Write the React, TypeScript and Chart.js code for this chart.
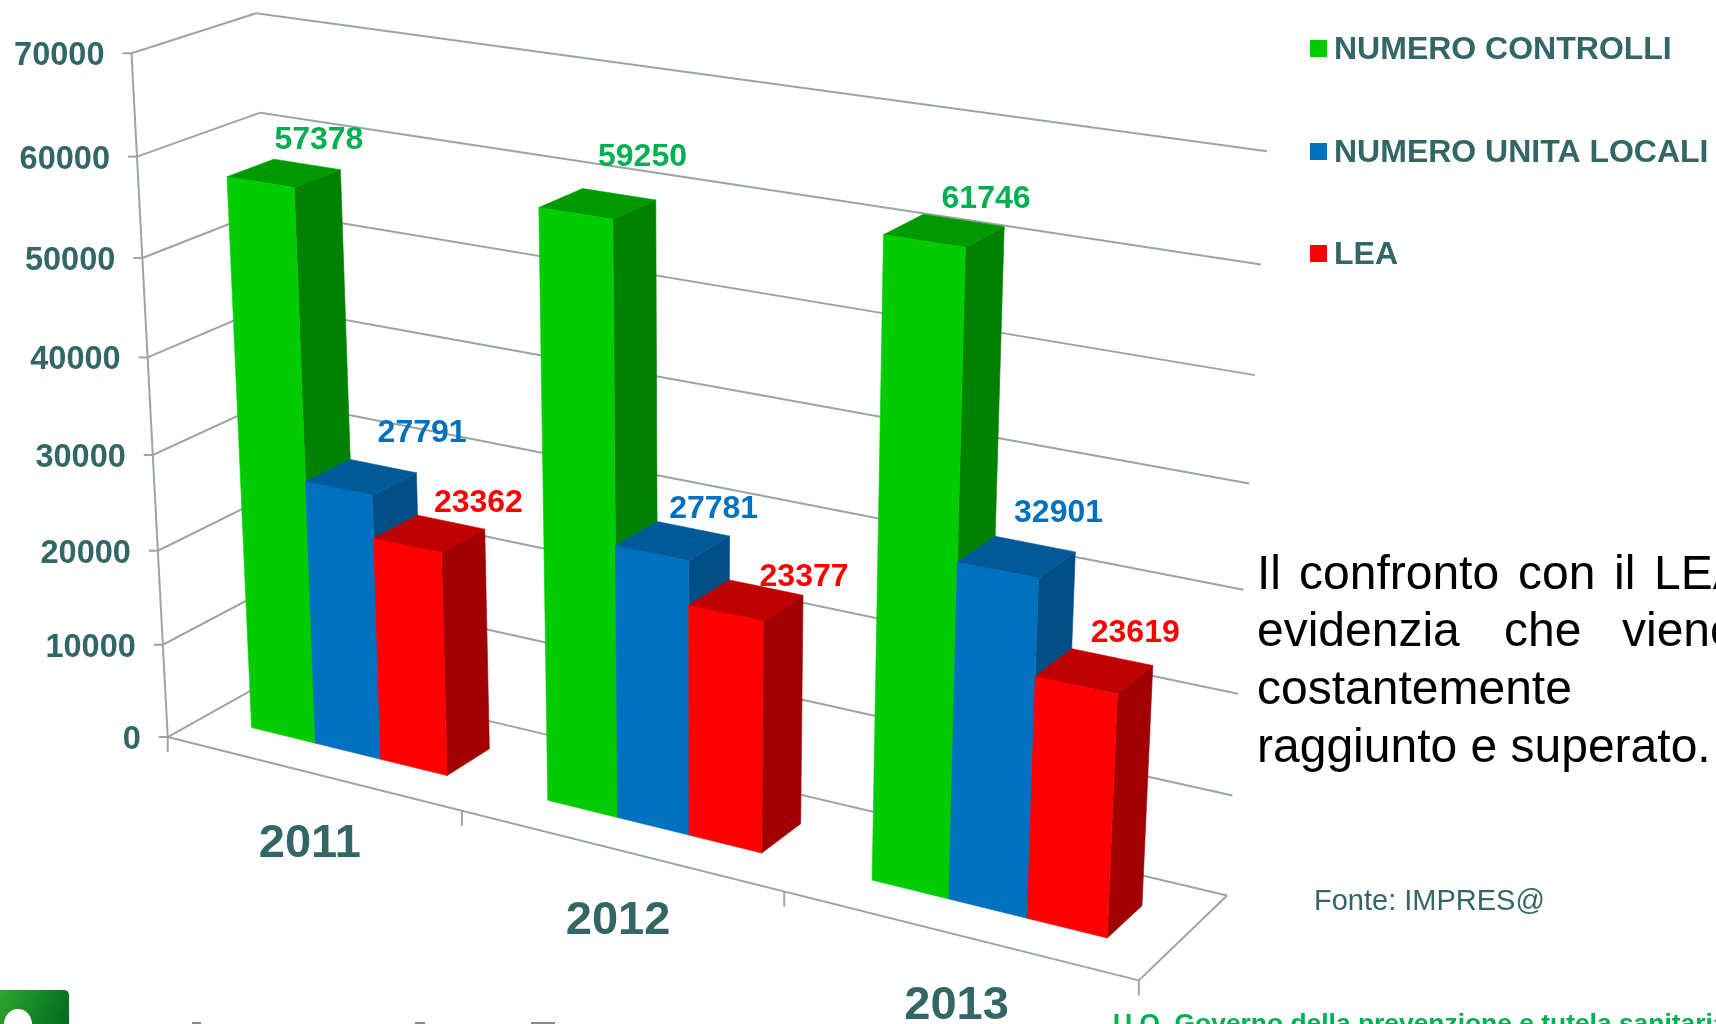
import React, { useEffect, useRef } from "react";
import { Chart, registerables } from "chart.js";

Chart.register(...registerables);

const categories = ["2011", "2012", "2013"];
const controlli = [57378, 59250, 61746];
const unitaLocali = [27791, 27781, 32901];
const lea = [23362, 23377, 23619];
const seriesNames = ["NUMERO CONTROLLI", "NUMERO UNITA LOCALI", "LEA"];
const yMax = 70000;
const yStep = 10000;

const FONT = '"Liberation Sans", Arial, sans-serif';
const TEAL = "#336666";
const GRID = "#9aa5a5";
const faces = [
  { front: "#00CC00", side: "#008200", top: "#009A00", label: "#00B050" },
  { front: "#0070C0", side: "#004E86", top: "#005A9A", label: "#0070C0" },
  { front: "#FF0000", side: "#A00000", top: "#C00000", label: "#FF0000" },
];
const labelOffsets = [
  [[35, -35], [61, -46], [49, -33]],
  [[45, -49], [41, -34], [58, -25]],
  [[42, -34], [42, -46], [41, -40]],
];
const BAR_NEAR = 0.315;
const BAR_FAR = 0.7;

// Anchors of the drawn box: [u (0..1), v (0..1), w (0..1), pixel x, pixel y]
const anchors: number[][] = [
  [0, 0, 0, 168, 736], [1 / 3, 0, 0, 462, 812], [2 / 3, 0, 0, 784, 894], [1, 0, 0, 1138, 979],
  [0, 0, 1, 283, 672], [1, 0, 1, 1227, 895],
  [0, 1, 0, 131, 53], [0, 6 / 7, 0, 137, 156], [0, 5 / 7, 0, 143, 258], [0, 4 / 7, 0, 148, 357],
  [0, 1, 1, 256, 14], [0, 6 / 7, 1, 260, 113],
  [1, 1, 1, 1267, 151], [1, 6 / 7, 1, 1261, 265], [1, 5 / 7, 1, 1255, 375], [1, 4 / 7, 1, 1249, 484],
  [1, 3 / 7, 1, 1244, 589], [1, 2 / 7, 1, 1238, 693], [1, 1 / 7, 1, 1233, 796],
];

function fit(pts: number[][]) {
  const n = 11;
  const A = Array.from({ length: n }, () => new Array(n + 1).fill(0));
  const add = (r: number[], b: number) => {
    for (let i = 0; i < n; i++) {
      for (let j = 0; j < n; j++) A[i][j] += r[i] * r[j];
      A[i][n] += r[i] * b;
    }
  };
  for (const [X, Y, Z, px, py] of pts) {
    const x = px / 1000, y = py / 1000;
    add([X, Y, Z, 1, 0, 0, 0, 0, -x * X, -x * Y, -x * Z], x);
    add([0, 0, 0, 0, X, Y, Z, 1, -y * X, -y * Y, -y * Z], y);
  }
  for (let c = 0; c < n; c++) {
    let m = c;
    for (let r = c + 1; r < n; r++) if (Math.abs(A[r][c]) > Math.abs(A[m][c])) m = r;
    [A[c], A[m]] = [A[m], A[c]];
    for (let r = 0; r < n; r++) {
      if (r === c) continue;
      const f = A[r][c] / A[c][c];
      for (let k = c; k <= n; k++) A[r][k] -= f * A[c][k];
    }
  }
  return A.map((row, i) => row[n] / row[i]);
}
const P = fit(anchors);
function project(u: number, v: number, w: number): [number, number] {
  const d = P[8] * u + P[9] * v + P[10] * w + 1;
  return [
    (1000 * (P[0] * u + P[1] * v + P[2] * w + P[3])) / d,
    (1000 * (P[4] * u + P[5] * v + P[6] * w + P[7])) / d,
  ];
}

function poly(ctx: CanvasRenderingContext2D, pts: [number, number][], fill: string) {
  ctx.beginPath();
  pts.forEach((p, i) => (i ? ctx.lineTo(p[0], p[1]) : ctx.moveTo(p[0], p[1])));
  ctx.closePath();
  ctx.fillStyle = fill;
  ctx.fill();
  ctx.strokeStyle = fill;
  ctx.lineWidth = 0.6;
  ctx.stroke();
}
function seg(ctx: CanvasRenderingContext2D, a: [number, number], b: [number, number]) {
  ctx.beginPath();
  ctx.moveTo(a[0], a[1]);
  ctx.lineTo(b[0], b[1]);
  ctx.strokeStyle = GRID;
  ctx.lineWidth = 2;
  ctx.stroke();
}
function text(ctx: CanvasRenderingContext2D, s: string, x: number, y: number, font: string, color: string, align: CanvasTextAlign = "left") {
  ctx.font = font;
  ctx.fillStyle = color;
  ctx.textAlign = align;
  ctx.textBaseline = "alphabetic";
  ctx.fillText(s, x, y);
}

const paragraph: [string, number, number][] = [
  ["Il", 1257, 589], ["confronto", 1299, 589], ["con", 1518, 589], ["il", 1614, 589], ["LEA", 1654, 589],
  ["evidenzia", 1257, 646], ["che", 1504, 646], ["viene", 1622, 646],
  ["costantemente", 1257, 704],
  ["raggiunto e superato.", 1257, 762],
];

const box3d = {
  id: "box3d",
  beforeDatasetsDraw(chart: any) {
    const { ctx, chartArea: area, scales } = chart;
    const yS = scales.y;
    const vOf = (val: number) => (area.bottom - yS.getPixelForValue(val)) / area.height;
    const uOf = (px: number) => (px - area.left) / area.width;
    ctx.save();

    // walls and floor
    for (const t of yS.ticks) {
      const v = vOf(t.value);
      const a = project(0, v, 0), b = project(0, v, 1), c = project(1, v, 1);
      seg(ctx, a, b);
      seg(ctx, b, c);
      seg(ctx, [a[0] - 9, a[1]], a);
      text(ctx, String(t.value), a[0] - 27, a[1] + 12, `bold 32.5px ${FONT}`, TEAL, "right");
    }
    seg(ctx, project(0, 0, 0), project(0, 1, 0));
    seg(ctx, project(0, 0, 0), project(1, 0, 0));
    seg(ctx, project(1, 0, 0), project(1, 0, 1));

    // category ticks and labels
    const n = categories.length;
    const edges = Array.from({ length: n + 1 }, (_, i) => i / n);
    edges.forEach((e) => {
      const p = project(e, 0, 0);
      seg(ctx, p, [p[0], p[1] + 15]);
    });
    categories.forEach((c, i) => {
      const a = project(edges[i], 0, 0), b = project(edges[i + 1], 0, 0);
      text(ctx, c, (a[0] + b[0]) / 2 - 5, (a[1] + b[1]) / 2 + 83, `bold 47px ${FONT}`, TEAL, "center");
    });

    // bars
    const labels: any[] = [];
    for (let i = 0; i < n; i++) {
      chart.data.datasets.forEach((ds: any, s: number) => {
        const el = chart.getDatasetMeta(s).data[i];
        const u0 = uOf(el.x - el.width / 2), u1 = uOf(el.x + el.width / 2);
        const v = vOf(ds.data[i]);
        const F = BAR_NEAR, B = BAR_FAR;
        const col = faces[s];
        poly(ctx, [project(u1, 0, F), project(u1, 0, B), project(u1, v, B), project(u1, v, F)], col.side);
        poly(ctx, [project(u0, v, F), project(u1, v, F), project(u1, v, B), project(u0, v, B)], col.top);
        poly(ctx, [project(u0, 0, F), project(u1, 0, F), project(u1, v, F), project(u0, v, F)], col.front);
        const ctr = project((u0 + u1) / 2, v, (F + B) / 2);
        const off = labelOffsets[i][s];
        labels.push([String(ds.data[i]), ctr[0] + off[0], ctr[1] + off[1] + 11, col.label]);
      });
    }
    labels.forEach((l) => text(ctx, l[0], l[1], l[2], `bold 32px ${FONT}`, l[3], "center"));

    // legend
    const legendY = [59, 162, 264];
    chart.data.datasets.forEach((ds: any, s: number) => {
      ctx.fillStyle = faces[s].front;
      ctx.fillRect(1310, legendY[s] - 19, 17, 17);
      text(ctx, ds.label, 1334, legendY[s], `bold 32px ${FONT}`, TEAL);
    });

    // side notes
    paragraph.forEach(([w, x, y]) => text(ctx, w, x, y, `48px ${FONT}`, "#000000"));
    text(ctx, "Fonte: IMPRES@", 1314, 910, `29px ${FONT}`, TEAL);
    text(ctx, "U.O. Governo della prevenzione e tutela sanitaria", 1113, 1032, `bold 26.4px ${FONT}`, "#00B050");

    // corner badge
    const g = ctx.createLinearGradient(0, 990, 69, 1024);
    g.addColorStop(0, "#2FA52F");
    g.addColorStop(1, "#006A1E");
    ctx.fillStyle = g;
    ctx.beginPath();
    ctx.roundRect(-10, 990, 79, 50, 5);
    ctx.fill();
    ctx.fillStyle = "#ffffff";
    ctx.beginPath();
    ctx.ellipse(18, 1024, 14, 15, 0, 0, Math.PI * 2);
    ctx.fill();
    ctx.fillStyle = "#8a8a8a";
    ctx.fillRect(192, 1022, 9, 2);
    ctx.fillRect(415, 1022, 10, 2);
    ctx.fillRect(531, 1022, 24, 2);
    ctx.restore();
    return false;
  },
};

export default function App() {
  const ref = useRef<HTMLCanvasElement>(null);
  useEffect(() => {
    document.body.style.margin = "0";
    document.body.style.overflow = "hidden";
    const chart = new Chart(ref.current!, {
      type: "bar",
      data: {
        labels: categories,
        datasets: [
          { label: seriesNames[0], data: controlli, backgroundColor: faces[0].front },
          { label: seriesNames[1], data: unitaLocali, backgroundColor: faces[1].front },
          { label: seriesNames[2], data: lea, backgroundColor: faces[2].front },
        ],
      },
      options: {
        animation: false,
        responsive: false,
        layout: { padding: 0 },
        datasets: { bar: { categoryPercentage: 0.67, barPercentage: 1 } },
        plugins: { legend: { display: false }, tooltip: { enabled: false }, title: { display: false } },
        scales: {
          x: { display: false },
          y: { display: false, min: 0, max: yMax, ticks: { stepSize: yStep } },
        },
      },
      plugins: [box3d],
    } as any);
    return () => chart.destroy();
  }, []);
  return <canvas ref={ref} width={1716} height={1024} style={{ display: "block", position: "absolute", left: 0, top: 0 }} />;
}
